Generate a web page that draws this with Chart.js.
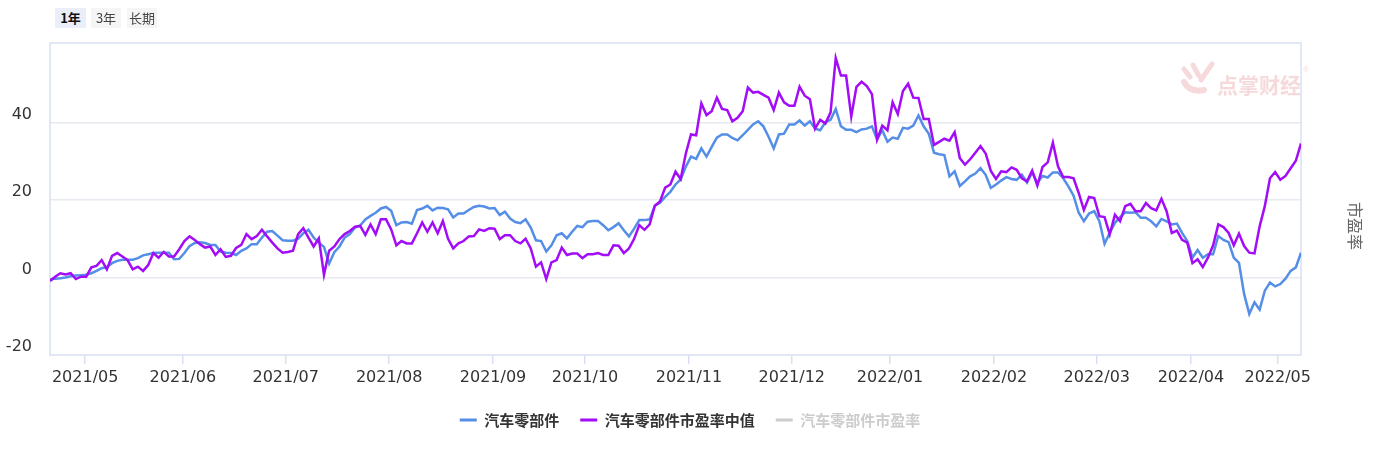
<!DOCTYPE html>
<html><head><meta charset="utf-8">
<script src="https://cdn.jsdelivr.net/npm/chart.js@4.4.0/dist/chart.umd.min.js"></script>
<style>
html,body{margin:0;padding:0;background:#fff;}
#wrap{position:relative;width:1380px;height:452px;overflow:hidden;}
canvas{position:absolute;left:0;top:0;}
.btn{position:absolute;top:8px;height:20px;line-height:20px;font-family:"Noto Sans CJK SC",sans-serif;font-size:13px;text-align:center;color:#444;background:#f5f5f5;}
</style></head><body>
<div id="wrap">
<canvas id="c" width="1380" height="452"></canvas>
<div class="btn" style="left:55px;width:31px;background:#e9eef8;color:#111;font-weight:bold;">1年</div>
<div class="btn" style="left:91px;width:30px;">3年</div>
<div class="btn" style="left:127px;width:30px;">长期</div>
</div>
<script>
const seriesNames = ['汽车零部件', '汽车零部件市盈率中值', '汽车零部件市盈率'];
const monthLabels = ['2021/05','2021/06','2021/07','2021/08','2021/09','2021/10','2021/11','2021/12','2022/01','2022/02','2022/03','2022/04','2022/05'];
const monthTickPos = [6.8, 25.7, 45.6, 65.6, 85.7, 103.5, 123.6, 143.5, 162.5, 182.6, 202.5, 220.7, 237.5];
const yTicks = [-20, 0, 20, 40];
const yTitle = '市盈率';

// 汽车零部件 (blue)
const partsPE = [
-0.6,-0.3,-0.2,0,0.3,0.5,0.6,0.7,1.1,1.7,
2.4,2.7,3.7,4.3,4.6,4.6,4.6,5.0,5.7,6.0,
6.3,6.4,6.4,6.4,4.7,4.8,6.3,8.1,8.9,9.1,
8.9,8.4,8.4,6.7,6.4,6.3,5.8,6.9,7.5,8.6,
8.6,10.3,11.8,12.0,10.8,9.6,9.5,9.5,10.0,11.4,
12.3,10.3,9.0,7.9,3.6,6.5,8.0,10.3,11.2,12.9,
13.4,15.0,15.9,16.7,17.8,18.2,17.2,13.5,14.2,14.3,
13.9,17.4,17.8,18.5,17.3,18.0,17.9,17.6,15.5,16.5,
16.5,17.4,18.2,18.5,18.3,17.8,17.9,16.1,17.0,15.2,
14.3,14.0,15.0,12.9,9.6,9.4,6.7,8.3,10.9,11.4,
10.1,11.8,13.3,13.0,14.4,14.6,14.6,13.5,12.2,13.0,
14.0,12.2,10.6,12.6,14.8,14.8,15.0,18.5,19.3,20.8,
22.1,24.0,25.3,28.6,31.2,30.6,33.3,31.2,33.7,36.1,
36.9,36.9,36.0,35.4,36.7,38.1,39.5,40.3,39.0,36.3,
33.3,36.9,37.1,39.5,39.5,40.5,39.2,40.3,38.4,38.0,
40.1,40.7,43.5,39.0,38.1,38.1,37.5,38.2,38.4,39.0,
35.6,38.0,35.0,36.1,35.8,38.6,38.4,39.2,41.8,39.0,
37.1,32.2,31.8,31.6,26.1,27.4,23.6,24.8,26.1,26.8,
28.2,26.5,23.1,24.0,25.0,25.9,25.4,25.2,26.5,24.5,
27.1,24.4,26.2,25.8,27.1,27.1,25.6,23.5,21.1,16.7,
14.5,16.5,17.1,14.5,8.7,11.5,14.1,15.6,16.8,16.7,
16.8,15.4,15.4,14.5,13.2,15.1,14.5,13.7,13.9,11.5,
9.4,5.1,7.1,5.1,6.0,6.0,10.7,9.7,9.1,5.1,
3.8,-4.3,-9.4,-6.4,-8.3,-3.4,-1.3,-2.3,-1.7,-0.3,
1.7,2.6,6.4
];

// 汽车零部件市盈率中值 (purple)
const medianPE = [
-0.9,0.2,1.1,0.8,1.1,-0.4,0.2,0.2,2.6,3.0,
4.5,2.1,5.6,6.3,5.4,4.5,2.1,2.8,1.7,3.2,
6.3,5.1,6.6,5.4,5.4,7.3,9.4,10.6,9.7,8.6,
7.7,8.0,5.8,7.3,5.3,5.6,7.6,8.4,11.2,9.9,
10.7,12.3,10.6,9.0,7.5,6.4,6.6,6.9,11.2,12.7,
10.3,8.0,10.1,0.7,6.9,8.0,9.9,11.2,12.0,13.1,
13.3,11.0,13.7,11.2,15.0,15.0,12.4,8.3,9.4,8.8,
8.8,11.4,14.2,11.8,14.2,11.4,14.6,10.0,7.5,8.8,
9.4,10.6,10.7,12.4,12.0,12.7,12.6,9.9,10.9,10.9,
9.4,8.8,10.0,7.5,2.8,3.9,-0.4,3.9,4.5,7.7,
5.8,6.2,6.2,5.0,6.0,6.0,6.3,5.8,5.8,8.3,
8.2,6.3,7.5,10.0,13.5,12.3,13.7,18.5,19.6,23.2,
24.0,27.3,25.4,32.0,36.9,36.7,44.9,41.9,42.9,46.4,
43.5,43.2,40.3,41.2,42.9,49.0,47.7,47.9,47.1,46.4,
43.2,47.7,45.2,44.3,44.3,49.2,46.9,46.0,38.4,40.7,
39.7,42.6,56.6,52.1,52.1,41.5,49.2,50.5,49.4,47.3,
35.6,39.2,38.0,45.2,42.2,48.1,50.0,46.4,46.3,40.9,
40.9,34.2,35.0,35.8,35.3,37.5,30.8,29.1,30.5,32.2,
33.9,32.0,27.5,25.4,27.4,27.2,28.4,27.8,25.6,24.8,
27.6,23.7,28.5,29.7,34.8,28.6,25.9,25.9,25.6,21.8,
17.4,20.8,20.5,15.8,15.6,11.1,16.2,14.5,18.4,19.0,
17.1,17.1,19.2,17.9,17.3,20.3,17.1,11.5,12.1,9.7,
9.0,3.7,4.7,2.7,5.1,8.3,13.7,13.0,11.5,8.3,
11.3,8.1,6.4,6.2,13.2,18.4,25.6,27.2,25.2,26.2,
28.2,30.1,34.6
];

const colors = ['#548ee6', '#a20cf6', '#cccccc'];
const toPts = arr => arr.map((v, i) => ({x: i, y: v}));
const N = partsPE.length;

const decor = {
  id: 'decor',
  beforeDatasetsDraw(chart) {
    const {ctx, chartArea: a} = chart;
    ctx.save();
    const pink = '#f6d9db';
    ctx.fillStyle = pink;
    ctx.strokeStyle = pink;
    ctx.font = 'bold 21px "Noto Sans CJK SC", sans-serif';
    ctx.textBaseline = 'middle';
    ctx.textAlign = 'left';
    ctx.fillText('点掌财经', 1217, 85);
    ctx.lineCap = 'round';
    ctx.lineWidth = 5;
    ctx.beginPath(); ctx.moveTo(1184, 69); ctx.lineTo(1190, 77); ctx.stroke();
    ctx.beginPath(); ctx.moveTo(1193, 65); ctx.lineTo(1199, 76); ctx.stroke();
    ctx.beginPath(); ctx.moveTo(1212, 64); ctx.lineTo(1201, 80); ctx.stroke();
    ctx.lineWidth = 6;
    ctx.beginPath(); ctx.moveTo(1184, 82); ctx.quadraticCurveTo(1190, 93, 1204, 90); ctx.stroke();
    ctx.font = '8px sans-serif';
    ctx.fillText('®', 1303, 70);
    ctx.restore();
    ctx.save();
    ctx.strokeStyle = '#d9e0f2';
    ctx.lineWidth = 1.5;
    ctx.strokeRect(a.left, a.top, a.right - a.left, a.bottom - a.top);
    ctx.restore();
  },
  afterDraw(chart) {
    const ctx = chart.ctx;
    ctx.save();
    ctx.translate(1355, 226);
    ctx.rotate(Math.PI / 2);
    ctx.font = '16px "Noto Sans CJK SC", sans-serif';
    ctx.fillStyle = '#666';
    ctx.textAlign = 'center';
    ctx.textBaseline = 'middle';
    ctx.fillText(yTitle, 0, 0);
    ctx.restore();
  }
};

new Chart(document.getElementById('c'), {
  type: 'line',
  data: {
    datasets: [
      {label: seriesNames[0], data: toPts(partsPE), borderColor: colors[0], backgroundColor: colors[0], borderWidth: 2.5, pointRadius: 0, tension: 0, fill: false, order: 1},
      {label: seriesNames[1], data: toPts(medianPE), borderColor: colors[1], backgroundColor: colors[1], borderWidth: 2.5, pointRadius: 0, tension: 0, fill: false, order: 0},
      {label: seriesNames[2], data: [], borderColor: colors[2], backgroundColor: colors[2], hidden: true, order: 2}
    ]
  },
  options: {
    responsive: false,
    animation: false,
    events: [],
    layout: {padding: {top: 43, right: 0, bottom: 14.5, left: 0}},
    scales: {
      x: {
        type: 'linear', min: 0, max: N - 1,
        afterBuildTicks: ax => { ax.ticks = monthTickPos.map(v => ({value: v})); },
        afterFit: ax => { ax.height = 36.5; },
        ticks: {autoSkip: false, maxRotation: 0, minRotation: 0, padding: 4, color: '#333',
          font: {family: '"DejaVu Sans", sans-serif', size: 16},
          callback: (v, idx) => monthLabels[idx]},
        grid: {drawOnChartArea: false, drawTicks: true, tickLength: 9, color: '#d9e0f2', lineWidth: 1.5},
        border: {display: false}
      },
      y: {
        min: -20, max: 60.5,
        afterBuildTicks: ax => { ax.ticks = yTicks.map(v => ({value: v})); },
        afterFit: ax => { ax.width = 50; },
        ticks: {padding: 18, labelOffset: -8, color: '#333', font: {family: '"DejaVu Sans", sans-serif', size: 16}},
        grid: {drawTicks: false, lineWidth: 1.5, color: c => (c.tick && c.tick.value === -20) ? 'rgba(0,0,0,0)' : '#e8e9f0'},
        border: {display: false}
      },
      yRight: {
        position: 'right', display: true, min: 0, max: 1,
        afterFit: ax => { ax.width = 79; },
        ticks: {display: false},
        grid: {display: false, drawTicks: false},
        border: {display: false}
      }
    },
    plugins: {
      tooltip: {enabled: false},
      legend: {
        position: 'bottom',
        labels: {
          boxWidth: 17, boxHeight: 3, padding: 21, color: '#333',
          font: {family: '"Noto Sans CJK SC", sans-serif', size: 15, weight: 'bold'},
          generateLabels: () => seriesNames.map((name, k) => ({
            text: name, fillStyle: colors[k], strokeStyle: colors[k], lineWidth: 0,
            hidden: false, datasetIndex: k, fontColor: k === 2 ? '#cccccc' : '#333333'
          }))
        }
      }
    }
  },
  plugins: [decor]
});
</script>
</body></html>
